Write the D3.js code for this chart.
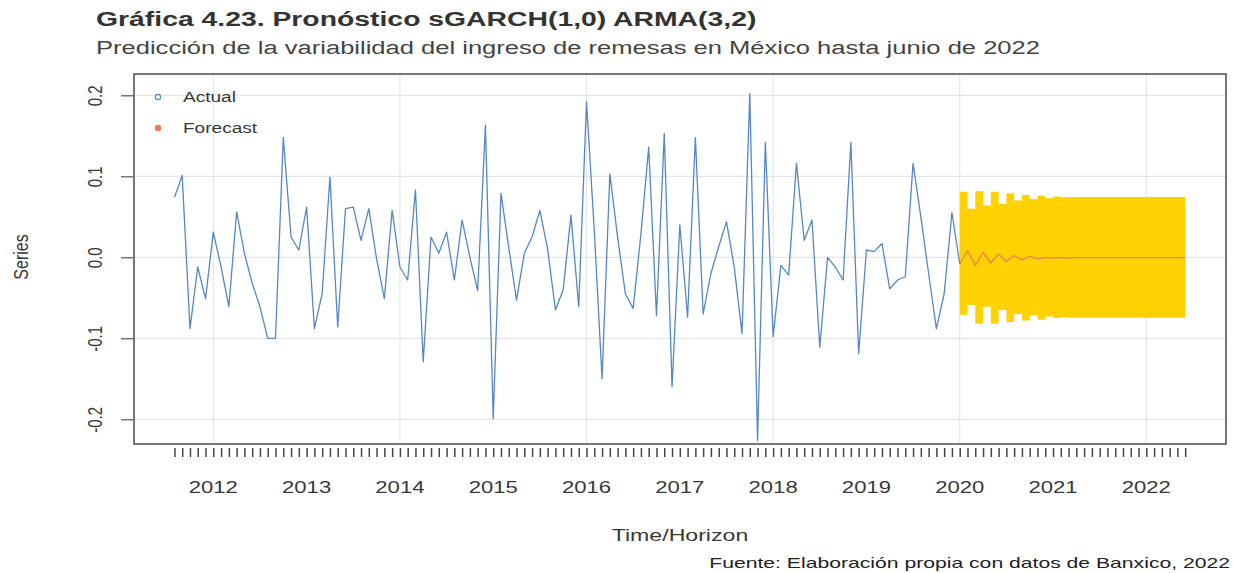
<!DOCTYPE html>
<html>
<head>
<meta charset="utf-8">
<script src="https://cdn.jsdelivr.net/npm/d3@7"></script>
<style>
  html, body { margin: 0; padding: 0; background: #ffffff; }
  svg text { font-family: "Liberation Sans", Arial, sans-serif; }
</style>
</head>
<body>
<svg id="chart" width="1233" height="573"></svg>
<script>
// Monthly remittance variability series (Aug 2011 – Jan 2020)
const actualStart = { year: 2011, month: 8 };
const actualValues = [
  0.074, 0.101, -0.088, -0.012, -0.051, 0.031, -0.012, -0.061, 0.056, 0.005,
  -0.032, -0.061, -0.100, -0.100, 0.148, 0.025, 0.009, 0.062, -0.088, -0.045,
  0.099, -0.086, 0.060, 0.062, 0.021, 0.060, -0.002, -0.051, 0.058, -0.012,
  -0.028, 0.083, -0.129, 0.025, 0.005, 0.031, -0.028, 0.046, 0.000, -0.041,
  0.163, -0.199, 0.079, 0.012, -0.053, 0.005, 0.025, 0.058, 0.010, -0.065,
  -0.040, 0.052, -0.061, 0.192, 0.033, -0.150, 0.103, 0.025, -0.045, -0.063,
  0.029, 0.136, -0.072, 0.153, -0.160, 0.040, -0.074, 0.148, -0.070, -0.020,
  0.013, 0.044, -0.012, -0.094, 0.202, -0.226, 0.142, -0.098, -0.010, -0.022,
  0.116, 0.021, 0.046, -0.111, 0.000, -0.012, -0.028, 0.142, -0.119, 0.009,
  0.007, 0.017, -0.039, -0.028, -0.024, 0.116, 0.050, -0.020, -0.088, -0.045,
  0.055, -0.008
];

// Forecast horizon (Jan 2020 – Jun 2022): mean and band limits
const forecastStart = { year: 2020, month: 1 };
const forecastMean = [
  -0.008, 0.008, -0.010, 0.006, -0.007, 0.004, -0.005, 0.002, -0.003, 0.001,
  -0.002, 0.000, -0.001, -0.0005, -0.001, -0.0005, -0.0005, -0.0005, -0.0005, -0.0005,
  -0.0005, -0.0005, -0.0005, -0.0005, -0.0005, -0.0005, -0.0005, -0.0005, -0.0005, -0.0005
];
const bandUpper = [
  0.081, 0.060, 0.082, 0.064, 0.081, 0.066, 0.079, 0.070, 0.077, 0.072,
  0.076, 0.073, 0.075, 0.074, 0.0745, 0.0745, 0.0745, 0.0745, 0.0745, 0.0745,
  0.0745, 0.0745, 0.0745, 0.0745, 0.0745, 0.0745, 0.0745, 0.0745, 0.0745, 0.0745
];
const bandLower = [
  -0.071, -0.059, -0.082, -0.061, -0.082, -0.065, -0.080, -0.070, -0.078, -0.072,
  -0.077, -0.073, -0.075, -0.074, -0.0745, -0.0745, -0.0745, -0.0745, -0.0745, -0.0745,
  -0.0745, -0.0745, -0.0745, -0.0745, -0.0745, -0.0745, -0.0745, -0.0745, -0.0745, -0.0745
];

const yTicks = [-0.2, -0.1, 0.0, 0.1, 0.2];
const yTickLabels = ["-0.2", "-0.1", "0.0", "0.1", "0.2"];
const yearLabels = [2012, 2013, 2014, 2015, 2016, 2017, 2018, 2019, 2020, 2021, 2022];
const gridYears = [2012, 2014, 2016, 2018, 2020, 2022];
const legendLabels = ["Actual", "Forecast"];

const titleText = "Gráfica 4.23. Pronóstico sGARCH(1,0) ARMA(3,2)";
const subtitleText = "Predicción de la variabilidad del ingreso de remesas en México hasta junio de 2022";
const xLabel = "Time/Horizon";
const yLabel = "Series";
const sourceText = "Fuente: Elaboración propia con datos de Banxico, 2022";

// ---- helpers ----
const toTime = (start, i) => start.year + (start.month - 1 + i) / 12;

const actual = actualValues.map((v, i) => ({ t: toTime(actualStart, i), v }));
const forecast = forecastMean.map((v, i) => ({
  t: toTime(forecastStart, i), v, hi: bandUpper[i], lo: bandLower[i]
}));

// ---- layout ----
const box = { left: 134, right: 1226, top: 74, bottom: 444 };
const svg = d3.select("#chart");

const x = d3.scaleLinear().domain([2011.150, 2022.854]).range([box.left, box.right]);
const y = d3.scaleLinear().domain([-0.2305, 0.2263]).range([box.bottom, box.top]);

const ink = "#383838";
const wide = 1.3; // horizontal widening applied to the chart lettering

// grid
const grid = svg.append("g").attr("stroke", "#e6e6e6").attr("stroke-width", 1.2);
grid.selectAll("line.h").data(yTicks).join("line")
  .attr("x1", box.left).attr("x2", box.right)
  .attr("y1", d => y(d)).attr("y2", d => y(d));
grid.selectAll("line.v").data(gridYears).join("line")
  .attr("y1", box.top).attr("y2", box.bottom)
  .attr("x1", d => x(d)).attr("x2", d => x(d));

// forecast band
svg.append("path")
  .datum(forecast)
  .attr("fill", "#ffd200")
  .attr("d", d3.area().curve(d3.curveStepAfter)
    .x(d => x(d.t)).y0(d => y(d.lo)).y1(d => y(d.hi)));

// actual series
svg.append("path")
  .datum(actual)
  .attr("fill", "none")
  .attr("stroke", "#5588c2")
  .attr("stroke-width", 1.3)
  .attr("stroke-linejoin", "round")
  .attr("d", d3.line().x(d => x(d.t)).y(d => y(d.v)));

// forecast mean
svg.append("path")
  .datum(forecast)
  .attr("fill", "none")
  .attr("stroke", "#f07a5a")
  .attr("stroke-width", 1.2)
  .attr("d", d3.line().x(d => x(d.t)).y(d => y(d.v)));

// frame
svg.append("rect")
  .attr("x", box.left).attr("y", box.top)
  .attr("width", box.right - box.left).attr("height", box.bottom - box.top)
  .attr("fill", "none").attr("stroke", "#555").attr("stroke-width", 1.6);

// y axis
const yAxis = svg.append("g")
  .attr("transform", `translate(${box.left - 1},0)`)
  .call(d3.axisLeft(y).tickValues(yTicks).tickSize(12).tickPadding(0)
    .tickFormat((d, i) => yTickLabels[i]));
yAxis.select(".domain").remove();
yAxis.selectAll(".tick line").attr("stroke", "#555").attr("stroke-width", 1.2)
  .attr("x1", -12).attr("x2", 0);
yAxis.selectAll(".tick text")
  .attr("fill", ink).attr("font-size", 15)
  .attr("text-anchor", "middle")
  .attr("transform", `translate(-38,0) rotate(-90) scale(1,${wide})`)
  .attr("x", 0).attr("dy", "0.35em");

// x axis: monthly ticks and year labels
const monthTicks = d3.range(0, actual.length + forecast.length - 1).map(i => toTime(actualStart, i));
const xAxis = svg.append("g")
  .attr("transform", `translate(0,${box.bottom + 4})`)
  .call(d3.axisBottom(x).tickValues(monthTicks).tickSize(9).tickFormat(""));
xAxis.select(".domain").remove();
xAxis.selectAll(".tick line").attr("stroke", "#444").attr("stroke-width", 1.5);

// stretched text helper: draws text widened horizontally around its anchor
function wideText(sel, px, py, str, size, anchor, fill, sx) {
  return sel.append("text")
    .attr("transform", `translate(${px},${py}) scale(${sx},1)`)
    .attr("text-anchor", anchor).attr("font-size", size)
    .attr("fill", fill).text(str);
}

const years = svg.append("g");
yearLabels.forEach(d => wideText(years, x(d), 493, d, 17, "middle", ink, wide));

// axis titles
wideText(svg, 680, 541, xLabel, 17, "middle", ink, 1.36);
svg.append("text")
  .attr("transform", `translate(28,257) rotate(-90) scale(1,${wide})`)
  .attr("text-anchor", "middle").attr("font-size", 16).attr("fill", ink).text(yLabel);

// legend
const legendColors = ["#5588c2", "#f07a5a"];
const legend = svg.append("g");
legend.selectAll("circle").data(legendLabels).join("circle")
  .attr("cx", 158).attr("cy", (d, i) => 97 + i * 31).attr("r", 2.6)
  .attr("fill", (d, i) => i === 1 ? legendColors[i] : "none")
  .attr("stroke", (d, i) => legendColors[i]).attr("stroke-width", 1.2);
legendLabels.forEach((d, i) => wideText(legend, 183, 102 + i * 31, d, 14, "start", ink, 1.36));

// titles
wideText(svg, 96, 26, titleText, 21, "start", "#333", 1.35).attr("font-weight", "bold");
wideText(svg, 96, 54, subtitleText, 19, "start", "#444", 1.345);
wideText(svg, 1230, 568, sourceText, 15, "end", "#222", 1.41);
</script>
</body>
</html>
